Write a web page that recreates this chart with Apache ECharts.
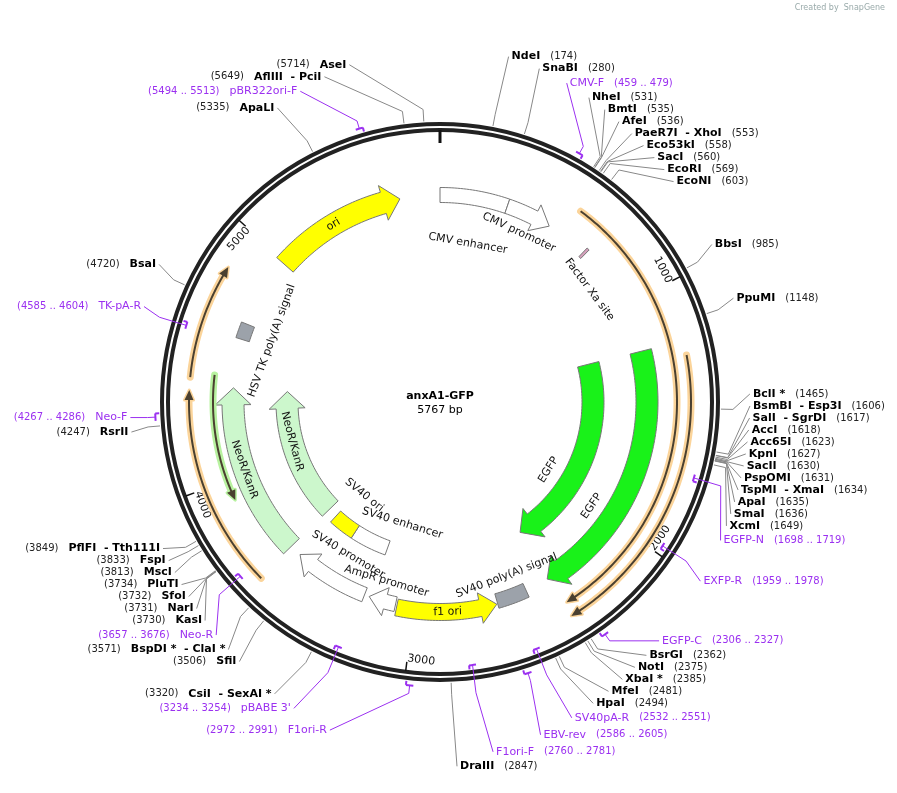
<!DOCTYPE html>
<html lang="en" style="height: 100%">
<head>
    <meta charset="utf-8">
    <title>anxA1-GFP</title>
    <script src="https://cdn.jsdelivr.net/npm/echarts@6/dist/echarts.min.js"></script>
</head>
<body style="height: 100%; margin: 0; background: #fff">
<div id="main" style="width: 897px; height: 793px;"></div>
<script type="text/javascript">
    var TOTAL = 5767;
    var FONT = '"DejaVu Sans", Verdana, sans-serif';

    // restriction sites
    var enzymeNames = ['NdeI', 'SnaBI', 'NheI', 'BmtI', 'AfeI', 'PaeR7I  - XhoI', 'Eco53kI', 'SacI', 'EcoRI', 'EcoNI',
        'BbsI', 'PpuMI', 'BclI *', 'BsmBI  - Esp3I', 'SalI  - SgrDI', 'AccI', 'Acc65I', 'KpnI', 'SacII', 'PspOMI',
        'TspMI  - XmaI', 'ApaI', 'SmaI', 'XcmI', 'BsrGI', 'NotI', 'XbaI *', 'MfeI', 'HpaI', 'DraIII',
        'CsiI  - SexAI *', 'SfiI', 'BspDI *  - ClaI *', 'KasI', 'NarI', 'SfoI', 'PluTI', 'MscI', 'FspI', 'PflFI  - Tth111I',
        'RsrII', 'BsaI', 'ApaLI', 'AflIII  - PciI', 'AseI'];
    var enzymeSites = [174, 280, 531, 535, 536, 553, 558, 560, 569, 603,
        985, 1148, 1465, 1606, 1617, 1618, 1623, 1627, 1630, 1631,
        1634, 1635, 1636, 1649, 2362, 2375, 2385, 2481, 2494, 2847,
        3320, 3506, 3571, 3730, 3731, 3732, 3734, 3813, 3833, 3849,
        4247, 4720, 5335, 5649, 5714];

    // primers (side: 1 = mark outside the backbone, -1 = inside)
    var primerNames = ['CMV-F', 'EGFP-N', 'EXFP-R', 'EGFP-C', 'SV40pA-R', 'EBV-rev', 'F1ori-F', 'F1ori-R',
        "pBABE 3'", 'Neo-R', 'Neo-F', 'TK-pA-R', 'pBR322ori-F'];
    var primerStarts = [459, 1698, 1959, 2306, 2532, 2586, 2760, 2972, 3234, 3657, 4267, 4585, 5494];
    var primerEnds = [479, 1719, 1978, 2327, 2551, 2605, 2781, 2991, 3254, 3676, 4286, 4604, 5513];
    var primerSides = [1, -1, -1, 1, -1, 1, -1, 1, -1, -1, 1, -1, 1];

    // features
    var featureNames = ['CMV enhancer', 'CMV promoter', 'Factor Xa site', '', '', 'EGFP', 'EGFP',
        'SV40 poly(A) signal', 'f1 ori', 'AmpR promoter', 'SV40 promoter', 'SV40 enhancer', 'SV40 ori',
        'NeoR/KanR', 'NeoR/KanR', '', '', '', 'HSV TK poly(A) signal', 'ori'];
    var featureStarts = [0, 304, 700, 583, 1269, 1215, 1213, 2490, 2632, 3082, 3226, 3200, 3414,
        3618, 3618, 3915, 3611, 4416, 4606, 4990];
    var featureEnds = [304, 510, 712, 2366, 2378, 2384, 2378, 2628, 3075, 3204, 3565, 3414, 3562,
        4388, 4388, 4435, 4369, 4846, 4677, 5588];
    var featureStrands = [0, 1, 0, 1, 1, 1, 1, 0, -1, 1, 1, 0, 0, 1, 1, -1, 1, 1, 0, 1];
    var featureKinds = ['box', 'arrow', 'box', 'thin', 'thin', 'arrow', 'arrow', 'box', 'arrow', 'arrow',
        'arrow', 'box', 'box', 'arrow', 'arrow', 'thin', 'thin', 'thin', 'box', 'arrow'];

    var tickValues = [1000, 2000, 3000, 4000, 5000];

    // drawing styles / layout for the features (radius px, width px, fill)
    var featureRadius = [207, 207, 207, 237, 251, 207, 153, 207, 210, 207, 207, 155, 155, 207, 153, 227, 251, 251, 207, 207];
    var featureWidth = [15, 15, 12, 0, 0, 22, 22, 15, 17, 15, 15, 15, 15, 22, 22, 0, 0, 0, 14, 22];
    var featureFill = ['#ffffff', '#ffffff', '#d6a0bc', '#fbd49a', '#fbd49a', '#19f219', '#19f219', '#9ca2aa',
        '#ffff00', '#ffffff', '#ffffff', '#ffffff', '#ffff00', '#ccf7cc', '#ccf7cc', '#b8f2a0', '#fbd49a',
        '#fbd49a', '#9ca2aa', '#ffff00'];
    // feature label placement: [radius, bp]
    var featureLabelAt = [[161, 160], [187, 400], [187, 850], null, null, [184, 1994], [128, 1955],
        [186, 2547], [210, 2850], [187, 3150], [178, 3380], [127, 3160], [120, 3510],
        [207, 4020], [153, 4086], null, null, null, [179, 4646], [207, 5270]];

    var chart = echarts.init(document.getElementById('main'));

    function tangentRot(c, p) {
        var ux = p[0] - c[0], uy = p[1] - c[1];
        var tx = -uy, ty = ux;
        var flip = tx < -0.001 || (Math.abs(tx) < 0.001 && ty < 0);
        if (flip) { tx = -tx; ty = -ty; }
        return {rot: -Math.atan2(ty, tx), flip: flip};
    }

    function arc(api, r, a, b) {
        var bpPx = TOTAL / (2 * Math.PI * r);
        var n = Math.max(2, Math.ceil(Math.abs(b - a) / bpPx / 3));
        var pts = [];
        for (var k = 0; k <= n; k++) pts.push(api.coord([r, a + (b - a) * k / n]));
        return pts;
    }

    function line(points, color, width, cap) {
        return {type: 'polyline', shape: {points: points}, style: {fill: null, stroke: color, lineWidth: width, lineCap: cap || 'butt'}};
    }

    // ---- backbone, ticks, title
    function renderBackbone(params, api) {
        var c = api.coord([0, 0]);
        var kids = [
            {type: 'circle', shape: {cx: c[0], cy: c[1], r: 278}, style: {fill: null, stroke: '#222', lineWidth: 4}},
            {type: 'circle', shape: {cx: c[0], cy: c[1], r: 272}, style: {fill: null, stroke: '#222', lineWidth: 4}},
            line([api.coord([259, 0]), api.coord([272, 0])], '#111', 3),
            {type: 'text', x: c[0], y: c[1] - 6, style: {text: 'anxA1-GFP', font: 'bold 11px ' + FONT, fill: '#000', align: 'center', verticalAlign: 'middle'}},
            {type: 'text', x: c[0], y: c[1] + 8, style: {text: TOTAL + ' bp', font: '11px ' + FONT, fill: '#000', align: 'center', verticalAlign: 'middle'}}
        ];
        tickValues.forEach(function (t) {
            kids.push(line([api.coord([262, t]), api.coord([271, t])], '#111', 1.5));
            var p = api.coord([264, t]);
            var tr = tangentRot(c, p);
            // tick label always sits on the lower-bp side of its tick
            kids.push({type: 'text', x: p[0], y: p[1], rotation: tr.rot,
                style: {text: String(t), font: '11px ' + FONT, fill: '#111', align: tr.flip ? 'left' : 'right', verticalAlign: tr.flip ? 'bottom' : 'top'}});
        });
        return {type: 'group', children: kids};
    }

    // ---- features
    function renderFeature(params, api) {
        var i = params.dataIndex;
        var r = featureRadius[i], w = featureWidth[i], s = featureStarts[i], e = featureEnds[i];
        var kind = featureKinds[i], strand = featureStrands[i];
        var bpPx = TOTAL / (2 * Math.PI * r);
        var c = api.coord([0, 0]);
        var kids = [];
        if (kind === 'box') {
            var pts = arc(api, r + w / 2, s, e).concat(arc(api, r - w / 2, e, s));
            kids.push({type: 'polygon', shape: {points: pts}, style: {fill: featureFill[i], stroke: '#777', lineWidth: 1}});
        } else if (kind === 'arrow') {
            var hl = Math.min(17 * bpPx, e - s), hh = w / 2 + 7, pts2;
            if (strand > 0) {
                var base = e - hl;
                pts2 = arc(api, r + w / 2, s, base)
                    .concat([api.coord([r + hh, base]), api.coord([r, e]), api.coord([r - hh, base])])
                    .concat(arc(api, r - w / 2, base, s));
            } else {
                var base2 = s + hl;
                pts2 = [api.coord([r, s]), api.coord([r + hh, base2])]
                    .concat(arc(api, r + w / 2, base2, e))
                    .concat(arc(api, r - w / 2, e, base2))
                    .concat([api.coord([r - hh, base2])]);
            }
            kids.push({type: 'polygon', shape: {points: pts2}, style: {fill: featureFill[i], stroke: '#777', lineWidth: 1}});
        } else {
            var hl2 = 10 * bpPx, hw = 4.5, ln, head;
            if (strand > 0) {
                ln = arc(api, r, s, e - hl2 * 0.6);
                head = [api.coord([r + hw, e - hl2]), api.coord([r, e]), api.coord([r - hw, e - hl2])];
            } else {
                ln = arc(api, r, s + hl2 * 0.6, e);
                head = [api.coord([r + hw, s + hl2]), api.coord([r, s]), api.coord([r - hw, s + hl2])];
            }
            kids.push(line(ln, featureFill[i], 7, 'round'));
            kids.push({type: 'polygon', shape: {points: head}, style: {fill: '#4a4030', stroke: featureFill[i], lineWidth: 3, lineJoin: 'round'}});
            kids.push(line(ln, '#4a4030', 2));
            kids.push({type: 'polygon', shape: {points: head}, style: {fill: '#4a4030'}});
        }
        var la = featureLabelAt[i];
        if (la && featureNames[i]) {
            var p = api.coord(la);
            var tr = tangentRot(c, p);
            kids.push({type: 'text', x: p[0], y: p[1], rotation: tr.rot,
                style: {text: featureNames[i], font: '11px ' + FONT, fill: '#111', align: 'center', verticalAlign: 'middle'}});
        }
        return {type: 'group', children: kids};
    }

    // ---- labels (enzymes + primers) with a simple collision layout
    var labelItems = [];
    enzymeNames.forEach(function (n, i) { labelItems.push({kind: 'enz', name: n, pos: enzymeSites[i], txt: '(' + enzymeSites[i] + ')', h: 12}); });
    primerNames.forEach(function (n, i) {
        labelItems.push({kind: 'pri', name: n, pos: (primerStarts[i] + primerEnds[i]) / 2, s: primerStarts[i], e: primerEnds[i],
            side: primerSides[i], txt: '(' + primerStarts[i] + ' .. ' + primerEnds[i] + ')', h: 17});
    });
    var layoutDone = false;

    function doLayout(api) {
        var c = api.coord([0, 0]);
        [1, -1].forEach(function (side) {
            var arr = labelItems.filter(function (it) { return (it.pos <= TOTAL / 2 ? 1 : -1) === side; });
            arr.forEach(function (it) { it.ny = api.coord([330, it.pos])[1]; it.lr = side; });
            arr.sort(function (a, b) { return a.ny - b.ny; });
            var blocks = [];
            function place(b) {
                var acc = 0, sum = 0;
                b.items.forEach(function (it) { it.off = acc + it.h / 2; sum += it.ny - it.off; acc += it.h; });
                b.top = sum / b.items.length; b.bottom = b.top + acc;
            }
            arr.forEach(function (it) {
                var b = {items: [it]}; place(b); blocks.push(b);
                while (blocks.length > 1 && blocks[blocks.length - 1].top < blocks[blocks.length - 2].bottom) {
                    var last = blocks.pop(), prev = blocks.pop();
                    var m = {items: prev.items.concat(last.items)}; place(m); blocks.push(m);
                }
            });
            blocks.forEach(function (b) { b.items.forEach(function (it) { it.y = b.top + it.off; }); });
            arr.forEach(function (it) {
                var dy = it.y - c[1];
                var R = 313 + 45 * Math.pow(Math.min(Math.abs(dy) / 360, 1.05), 3);
                var dx = Math.sqrt(Math.max(R * R - dy * dy, 400));
                it.x = c[0] + side * dx;
            });
        });
        layoutDone = true;
    }

    function renderLabel(params, api) {
        if (!layoutDone) doLayout(api);
        var it = labelItems[params.dataIndex];
        var kids = [];
        var purple = '#9b30f0';
        var col = it.kind === 'pri' ? purple : '#888';
        var start;
        if (it.kind === 'pri') {
            var rr = it.side > 0 ? 285 : 265;
            var span = Math.max(it.e - it.s, 24);
            var mid = (it.s + it.e) / 2;
            var mk = arc(api, rr, mid - span / 2, mid + span / 2);
            var endTick = [api.coord([rr - it.side * 4, mid + span / 2]), mk[mk.length - 1]];
            kids.push(line(mk, purple, 2));
            kids.push(line(endTick, purple, 2));
            start = api.coord([rr, mid]);
        } else {
            start = api.coord([281, it.pos]);
        }
        var elbow = api.coord([293, it.pos]);
        kids.push(line([start, elbow, [it.x - it.lr * 3, it.y]], col, 1));
        var rich;
        if (it.kind === 'pri') {
            rich = {n: {font: '11px ' + FONT, fill: purple}, p: {font: '10px ' + FONT, fill: purple}};
        } else {
            rich = {n: {font: 'bold 11px ' + FONT, fill: '#000'}, p: {font: '10px ' + FONT, fill: '#222'}};
        }
        var text = it.lr > 0 ? '{n|' + it.name + '}   {p|' + it.txt + '}' : '{p|' + it.txt + '}   {n|' + it.name + '}';
        kids.push({type: 'text', x: it.x, y: it.y, style: {text: text, rich: rich, align: it.lr > 0 ? 'left' : 'right', verticalAlign: 'middle'}});
        return {type: 'group', children: kids};
    }

    chart.setOption({
        animation: false,
        polar: {center: [440, 402], radius: 400},
        angleAxis: {type: 'value', min: 0, max: TOTAL, startAngle: 90, clockwise: true, show: false},
        radiusAxis: {type: 'value', min: 0, max: 400, show: false},
        graphic: [{type: 'text', right: 12, top: 4, style: {text: 'Created by  SnapGene', font: '8px ' + FONT, fill: '#9aa'}}],
        series: [
            {type: 'custom', coordinateSystem: 'polar', renderItem: renderBackbone, data: [[0, 0]], silent: true},
            {type: 'custom', coordinateSystem: 'polar', renderItem: renderFeature, silent: true,
                data: featureStarts.map(function (s, i) { return [featureRadius[i], s]; })},
            {type: 'custom', coordinateSystem: 'polar', renderItem: renderLabel, silent: true,
                data: labelItems.map(function (it) { return [290, it.pos]; })}
        ]
    });
</script>
</body>
</html>
